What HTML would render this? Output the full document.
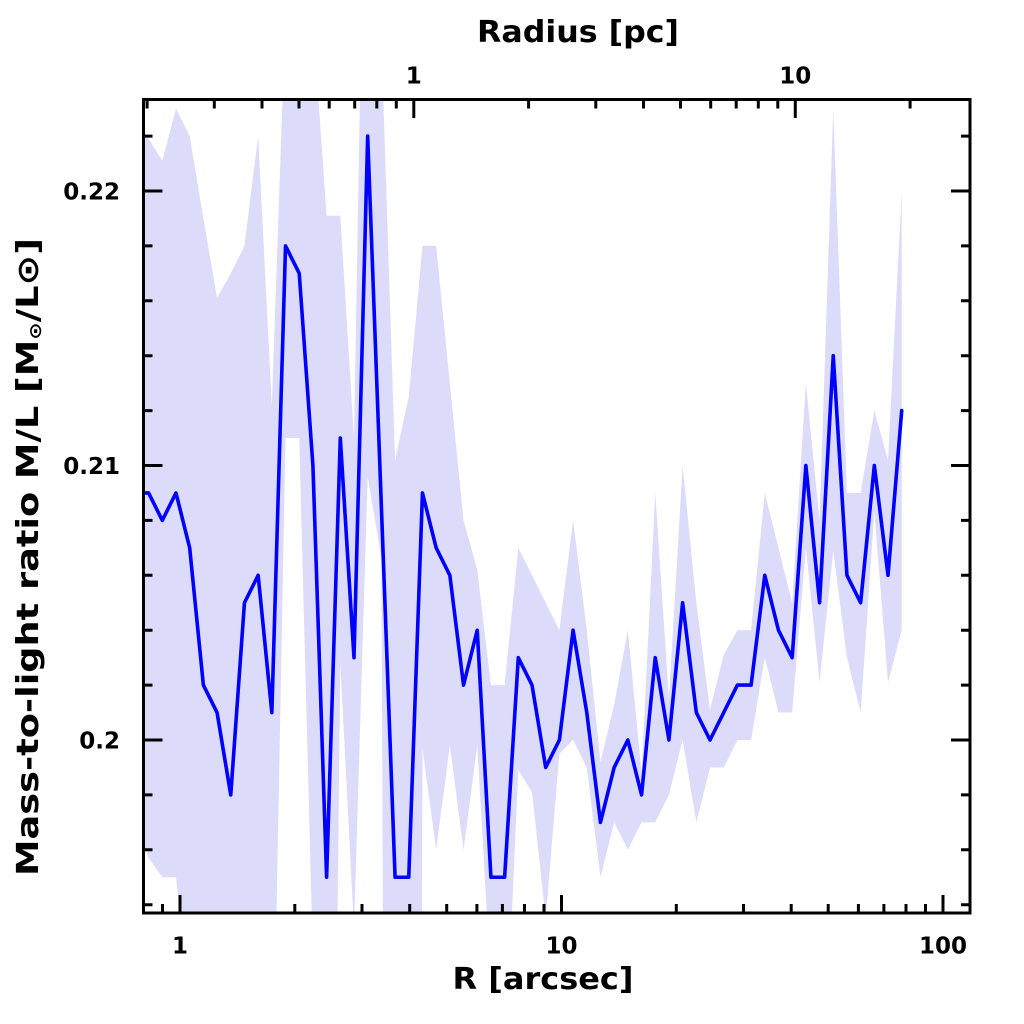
<!DOCTYPE html>
<html>
<head>
<meta charset="utf-8">
<style>
  html,body{margin:0;padding:0;background:#fff;width:1024px;height:1024px;overflow:hidden;}
  svg{display:block;overflow:hidden;}
  text{font-family:"DejaVu Sans","Liberation Sans",sans-serif;font-weight:bold;fill:#000;}
</style>
</head>
<body>
<svg width="1024" height="1024" viewBox="0 0 1024 1024" xmlns="http://www.w3.org/2000/svg">
  <rect x="0" y="0" width="1024" height="1024" fill="#fff"/>
  <defs>
    <clipPath id="plotclip" clipPathUnits="userSpaceOnUse">
      <rect x="143.5" y="99.5" width="826.5" height="813.5"/>
    </clipPath>
  </defs>

  <g clip-path="url(#plotclip)">
    <g transform="translate(148.6,740) scale(13.693,-27.45)">
      <polygon fill="#dcdcfa" stroke="none" points="
        -1,22.5 0,21.9 1,21.1 2,23 3,22 4,19 5,16.1 6,17 7,18 8,22 9,12.2 10,26.5 11,26 12,26.2 13,19.1 14,19.1 15,11.0 16,39.6 17,25.5 18,10.2 19,12.5 20,18 21,18 22,13 23,8 24,6.2 25,2 26,2 27,7 28,6 29,5 30,4 31,8 32,4 33,-0.8 34,1.3 35,4 36,-1.2 37,9 38,1.5 39,10 40,5 41,1.1 42,3.1 43,4 44,4 45,9 46,7 47,5 48,13 49,8 50,23 51,9 52,9 53,12 54,10.2 55,20
        55,4 54,2.1 53,8.3 52,1 51,3 50,6.9 49,2.1 48,7 47,1 46,1 45,3 44,0 43,0 42,-1 41,-1 40,-3 39,0 38,-2 37,-3 36,-3 35,-4 34,-3 33,-5 32,-1 31,0 30,-0.5 29,-6.5 28,-1.9 27,-1.1 26.2,-10 26,-10 25,-8.9 24,-0.2 23,-4 22,-0.2 21,-4 20,-0.3 19.95,-10 19,-10 18,-10 17.14,-10 17,6.6 16,9.6 15,-6.9 14,2.8 13.72,-10 13,-10 12,-8 11,11 10,11 9.2,-10 9,-10 8,-10 7,-10 6,-10 5,-10 4,-10 3,-9.4 2,-5 1,-5 0,-4.3 -1,-3"/>
      <polyline fill="none" stroke="#0000ff" stroke-width="3.6" vector-effect="non-scaling-stroke" stroke-linejoin="round" stroke-linecap="round" points="
        -1,9 0,9 1,8 2,9 3,7 4,2 5,1 6,-2 7,5 8,6 9,1 10,18 11,17 12,10 13,-5 14,11 15,3 16,22 17,8.5 18,-5 19,-5 20,9 21,7 22,6 23,2 24,4 25,-5 26,-5 27,3 28,2 29,-1 30,0 31,4 32,1 33,-3 34,-1 35,0 36,-2 37,3 38,0 39,5 40,1 41,0 42,1 43,2 44,2 45,6 46,4 47,3 48,10 49,5 50,14 51,6 52,5 53,10 54,6 55,12"/>
    </g>
  </g>

  <!-- frame -->
  <rect x="143.5" y="99.5" width="826.5" height="813.5" fill="none" stroke="#000" stroke-width="3"/>

  <!-- ticks -->
  <path fill="none" stroke="#000" stroke-width="3" d="
    M162.5 913V904 M180 913V895
    M294.8 913V904 M362 913V904 M409.7 913V904 M446.7 913V904 M476.9 913V904 M502.4 913V904 M524.5 913V904 M544 913V904
    M561.5 913V895
    M676.3 913V904 M743.5 913V904 M791.2 913V904 M828.2 913V904 M858.4 913V904 M883.9 913V904 M906 913V904 M925.5 913V904
    M943 913V895
    M147.1 99.5V108.5 M214.3 99.5V108.5 M262 99.5V108.5 M299 99.5V108.5 M329.2 99.5V108.5 M354.7 99.5V108.5 M376.8 99.5V108.5 M396.3 99.5V108.5
    M413.8 99.5V118
    M528.6 99.5V108.5 M595.8 99.5V108.5 M643.5 99.5V108.5 M680.5 99.5V108.5 M710.7 99.5V108.5 M736.2 99.5V108.5 M758.3 99.5V108.5 M777.8 99.5V108.5
    M795.3 99.5V118
    M910.1 99.5V108.5
    M143.5 904.7H152.5 M143.5 849.8H152.5 M143.5 794.9H152.5 M143.5 740H162.5 M143.5 685.1H152.5 M143.5 630.2H152.5 M143.5 575.3H152.5 M143.5 520.4H152.5 M143.5 465.5H162.5 M143.5 410.6H152.5 M143.5 355.7H152.5 M143.5 300.8H152.5 M143.5 245.9H152.5 M143.5 191H162.5 M143.5 136.1H152.5
    M970 904.7H961 M970 849.8H961 M970 794.9H961 M970 740H951 M970 685.1H961 M970 630.2H961 M970 575.3H961 M970 520.4H961 M970 465.5H951 M970 410.6H961 M970 355.7H961 M970 300.8H961 M970 245.9H961 M970 191H951 M970 136.1H961"/>

  <!-- y tick labels -->
  <text x="120" y="199.5" font-size="23" text-anchor="end">0.22</text>
  <text x="120" y="474" font-size="23" text-anchor="end">0.21</text>
  <text x="120" y="748.5" font-size="23" text-anchor="end">0.2</text>

  <!-- bottom tick labels -->
  <text x="180" y="953.5" font-size="23" text-anchor="middle">1</text>
  <text x="561.5" y="953.5" font-size="23" text-anchor="middle">10</text>
  <text x="943" y="953.5" font-size="23" text-anchor="middle">100</text>

  <!-- top tick labels -->
  <text x="413.8" y="83.5" font-size="23" text-anchor="middle">1</text>
  <text x="795.3" y="83.5" font-size="23" text-anchor="middle">10</text>

  <!-- axis titles -->
  <text x="578" y="42" font-size="30" text-anchor="middle" textLength="202" lengthAdjust="spacingAndGlyphs">Radius [pc]</text>
  <text x="543" y="989" font-size="30" text-anchor="middle" textLength="181" lengthAdjust="spacingAndGlyphs">R [arcsec]</text>
  <text transform="translate(38,557) rotate(-90)" x="0" y="0" font-size="30" text-anchor="middle" textLength="638" lengthAdjust="spacingAndGlyphs">Mass-to-light ratio M/L [M<tspan font-size="17" dy="3">⊙</tspan><tspan dy="-3">/L⊙]</tspan></text>
</svg>
</body>
</html>
